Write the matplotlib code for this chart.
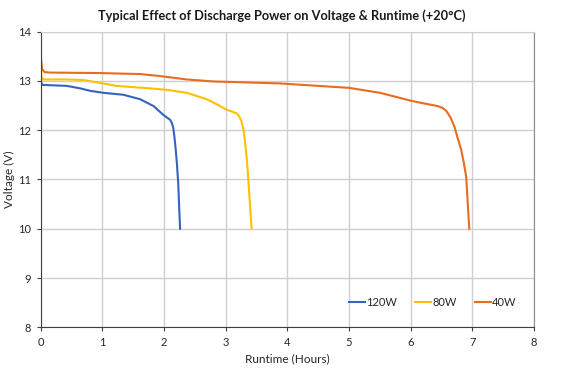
import matplotlib
matplotlib.use("Agg")
import matplotlib.pyplot as plt

plt.rcParams['font.family'] = ['Lato', 'DejaVu Sans']

# runtime (hours) / voltage (V)
t_120 = [0.0, 0.01, 0.03, 0.42, 0.64, 0.80, 1.01, 1.34, 1.61, 1.83, 1.99, 2.10, 2.13,
         2.15, 2.17, 2.19, 2.21, 2.23, 2.26]
v_120 = [13.05, 12.95, 12.92, 12.90, 12.85, 12.80, 12.76, 12.72, 12.63, 12.49, 12.31, 12.21, 12.14,
         12.04, 11.85, 11.60, 11.30, 10.92, 10.0]

t_80 = [0.0, 0.01, 0.04, 0.42, 0.69, 0.96, 1.23, 1.77, 2.04, 2.37, 2.69, 2.85, 3.01, 3.12,
        3.18, 3.22, 3.26, 3.29, 3.31, 3.34, 3.36, 3.42]
v_80 = [13.24, 13.08, 13.03, 13.03, 13.02, 12.96, 12.90, 12.85, 12.82, 12.76, 12.63, 12.53, 12.42, 12.37,
        12.34, 12.28, 12.17, 12.00, 11.80, 11.45, 11.13, 10.0]

t_40 = [0.0, 0.02, 0.06, 0.15, 0.96, 1.61, 1.93, 2.37, 2.80, 3.88, 4.00, 5.00, 5.50, 6.00,
        6.15, 6.44, 6.52, 6.58, 6.65, 6.71, 6.76, 6.82, 6.86, 6.90, 6.95]
v_40 = [13.51, 13.25, 13.18, 13.17, 13.16, 13.14, 13.10, 13.03, 12.99, 12.95, 12.94, 12.86, 12.76, 12.60,
        12.56, 12.49, 12.45, 12.39, 12.25, 12.07, 11.85, 11.60, 11.35, 11.06, 10.0]

series = [("120W", t_120, v_120, "#3563C2"),
          ("80W", t_80, v_80, "#FFC000"),
          ("40W", t_40, v_40, "#E96B20")]

fig = plt.figure(figsize=(5.64, 3.68), dpi=100)
ax = fig.add_axes([0.0722, 0.1106, 0.8746, 0.8033])

for name, t, v, c in series:
    ax.plot(t, v, color=c, lw=1.5, label=name, solid_joinstyle='round')

ax.set_xlim(0, 8)
ax.set_ylim(8, 14)
ax.set_xticks(range(0, 9))
ax.set_yticks(range(8, 15))
ax.grid(True, color='#CFCFCF', lw=1.0)
ax.set_axisbelow(True)

ax.spines['left'].set_color('#404040')
ax.spines['bottom'].set_color('#404040')
ax.spines['right'].set_color('#8A8A8A')
ax.spines['top'].set_color('#CFCFCF')
ax.tick_params(axis='both', direction='out', length=3, width=0.8, color='#404040',
               labelsize=8, labelcolor='#262626', pad=4)

ax.set_xlabel('Runtime (Hours)', fontsize=8.5, color='#262626', labelpad=4)
ax.set_ylabel('Voltage (V)', fontsize=8.5, color='#262626', labelpad=2)

fig.suptitle('Typical Effect of Discharge Power on Voltage & Runtime (+20°C)',
             x=0.5, y=0.975, fontsize=9.2, fontweight='bold', color='#1a1a1a')

ax.legend(loc='center right', bbox_to_anchor=(0.985, 0.085), ncol=3, frameon=False,
          fontsize=8, handlelength=1.4, handletextpad=0.1, columnspacing=1.7,
          labelcolor='#262626')

fig.savefig('out.png', dpi=100)
